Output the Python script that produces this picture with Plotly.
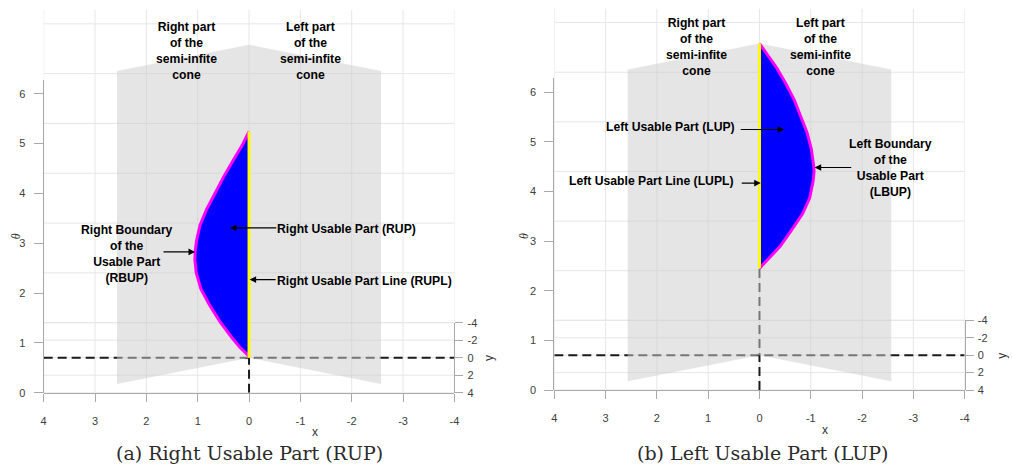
import numpy as np
import plotly.graph_objects as go

W, H = 1012, 475

# ---- tick values ----
x_ticks = [4, 3, 2, 1, 0, -1, -2, -3, -4]
x_tick_text = ["4", "3", "2", "1", "0", "-1", "-2", "-3", "-4"]
theta_ticks = [0, 1, 2, 3, 4, 5, 6]
depth_ticks = [-4, -2, 0, 2, 4]
depth_tick_text = ["-4", "-2", "0", "2", "4"]

# ---- right usable part boundary (plane y = 0): x as a function of theta ----
rup_theta = [0.00, 0.05, 0.21, 0.41, 0.73, 1.06, 1.385, 1.71, 1.97, 2.135, 2.36, 2.66,
             2.98, 3.31, 3.64, 3.96, 4.29, 4.54]
rup_x = [0.00, 0.02, 0.18, 0.34, 0.57, 0.77, 0.94, 1.03, 1.055, 1.05, 1.02, 0.955,
         0.825, 0.665, 0.49, 0.31, 0.12, 0.00]

# ---- left usable part boundary (plane y = 0) ----
lup_theta = [1.75, 1.87, 2.19, 2.52, 2.85, 3.17, 3.50, 3.70, 3.83, 4.16, 4.48, 4.81,
             5.14, 5.47, 5.79, 6.05, 6.28]
lup_x = [0.00, -0.11, -0.40, -0.625, -0.84, -0.98, -1.045, -1.065, -1.055, -1.01, -0.93, -0.805,
         -0.68, -0.515, -0.335, -0.16, 0.00]

# ---- semi-infinite cone patch ----
cone_half_width = 2.57
cone_rim_depth = 3.0
theta_max = 2 * np.pi
x_lim = 4.0
depth_lim = 4.0

# screen rise per unit of depth for the near-frontal view
DEPTH_SLOPE = 0.1757


def screen_v(theta, depth):
    """Vertical screen coordinate of a point (theta, depth) in the frontal view."""
    return np.asarray(theta, float) + (depth_lim - np.asarray(depth, float)) * DEPTH_SLOPE


V_TOP = float(screen_v(theta_max, -depth_lim))

GRID = "#e6e6e6"
AXIS = "#a9a9a9"
TICKFONT = dict(family="Liberation Sans, Arial", size=11, color="#404040")
BOLD = dict(family="Liberation Sans, Arial", size=12.2, color="black", weight="bold")

panels = [
    dict(x="x", y="y", yt="y3", yd="y5", xkey="xaxis", ykey="yaxis", ytkey="yaxis3", ydkey="yaxis5",
         left_px=41.0, right_px=455.0, v0_px=396.7, scale=51.1,
         theta=rup_theta, bx=rup_x,
         cone_labels=[(1.21, 6.86), (-1.20, 6.86)],
         arrows=[((0.375, 3.307), (-0.56, 3.307)),
                 ((1.051, 2.826), (1.695, 2.826)),
                 ((-0.01, 2.27), (-0.547, 2.27))],
         texts=[("Right Usable Part (RUP)", -0.51, 3.296, "left"),
                ("Right Boundary<br>of the<br>Usable Part<br>(RBUP)", 2.377, 2.779, "center"),
                ("Right Usable Part Line (RUPL)", -0.51, 2.25, "left")],
         caption="(a) Right Usable Part (RUP)", cap_px=(248, 459),
         xlab_px=(314, 437), tlab_px=(13.3, 236), ylab_px=(490, 361)),
    dict(x="x2", y="y2", yt="y4", yd="y6", xkey="xaxis2", ykey="yaxis2", ytkey="yaxis4", ydkey="yaxis6",
         left_px=555.7, right_px=969.3, v0_px=394.0, scale=50.9,
         theta=lup_theta, bx=lup_x,
         cone_labels=[(1.226, 6.91), (-1.19, 6.91)],
         arrows=[((-0.484, 5.251), (0.395, 5.251)),
                 ((-0.025, 4.171), (0.375, 4.171)),
                 ((-1.075, 4.485), (-1.818, 4.485))],
         texts=[("Left Usable Part (LUP)", 0.44, 5.30, "right"),
                ("Left Usable Part Line (LUPL)", 0.46, 4.21, "right"),
                ("Left Boundary<br>of the<br>Usable Part<br>(LBUP)", -2.55, 4.47, "center")],
         caption="(b) Left Usable Part (LUP)", cap_px=(766, 459),
         xlab_px=(829, 435), tlab_px=(525, 236), ylab_px=(1006.7, 359)),
]

fig = go.Figure()
annotations = []
layout_axes = {}

for p in panels:
    xr, yr = p["x"], p["y"]
    common = dict(xaxis=xr, yaxis=yr, showlegend=False, hoverinfo="skip")

    # grid: back-wall theta levels (y = -4), floor depth levels (theta = 0), and x columns
    gx, gv = [], []
    for t in theta_ticks:
        v = float(screen_v(t, -depth_lim))
        gx += [x_lim, -x_lim, None]
        gv += [v, v, None]
    for d in depth_ticks:
        v = float(screen_v(0, d))
        gx += [x_lim, -x_lim, None]
        gv += [v, v, None]
    for xv in x_ticks:
        gx += [xv, xv, None]
        gv += [0.0, V_TOP, None]
    fig.add_trace(go.Scatter(x=gx, y=gv, mode="lines", line=dict(color=GRID, width=1), **common))

    # dashed coordinate lines through the origin
    v_origin = float(screen_v(0, 0))
    fig.add_trace(go.Scatter(x=[x_lim, -x_lim], y=[v_origin, v_origin], mode="lines",
                             line=dict(color="#1a1a1a", width=2, dash="9px,5px"), **common))
    fig.add_trace(go.Scatter(x=[0, 0],
                             y=[float(screen_v(0, depth_lim)), float(screen_v(p["theta"][0], 0))],
                             mode="lines", line=dict(color="#1a1a1a", width=2, dash="9px,5px"), **common))

    # semi-transparent cone patch
    cx = [cone_half_width, 0, -cone_half_width, -cone_half_width, 0, cone_half_width]
    cd = [cone_rim_depth, 0, cone_rim_depth, cone_rim_depth, 0, cone_rim_depth]
    ct = [0, 0, 0, theta_max, theta_max, theta_max]
    fig.add_trace(go.Scatter(x=cx, y=screen_v(ct, cd), mode="lines", fill="toself",
                             fillcolor="rgba(205,205,205,0.52)", line=dict(width=0), **common))

    # usable part (blue), its boundary (magenta) and its line on x = 0 (yellow)
    bv = screen_v(p["theta"], 0)
    fig.add_trace(go.Scatter(x=p["bx"], y=bv, mode="lines", fill="toself", fillcolor="#0000ff",
                             line=dict(width=0), **common))
    fig.add_trace(go.Scatter(x=p["bx"], y=bv, mode="lines",
                             line=dict(color="#ff00ff", width=3), **common))
    fig.add_trace(go.Scatter(x=[0, 0], y=[bv[0], bv[-1]], mode="lines",
                             line=dict(color="#ffff00", width=3), **common))

    # empty traces so the auxiliary axes are laid out
    fig.add_trace(go.Scatter(x=[], y=[], xaxis=xr, yaxis=p["yt"], showlegend=False, hoverinfo="skip"))
    fig.add_trace(go.Scatter(x=[], y=[], xaxis=xr, yaxis=p["yd"], showlegend=False, hoverinfo="skip"))

    # axis geometry
    b = (H - p["v0_px"]) / H
    t = b + V_TOP * p["scale"] / H
    xd = [p["left_px"] / W, p["right_px"] / W]
    layout_axes[p["xkey"]] = dict(domain=xd, range=[x_lim, -x_lim], anchor=yr,
                                  tickvals=x_ticks, ticktext=x_tick_text, tickfont=TICKFONT,
                                  ticks="outside", ticklen=8, tickcolor=AXIS, ticklabelstandoff=10,
                                  showline=True, linecolor=AXIS, linewidth=1,
                                  showgrid=False, zeroline=False, fixedrange=True)
    layout_axes[p["ykey"]] = dict(domain=[b, t], range=[0, V_TOP], anchor=xr,
                                  showticklabels=False, ticks="", showline=False,
                                  showgrid=False, zeroline=False, fixedrange=True)
    layout_axes[p["ytkey"]] = dict(domain=[b, b + theta_max * p["scale"] / H], range=[0, theta_max],
                                   anchor=xr, side="left",
                                   tickvals=theta_ticks, tickfont=TICKFONT,
                                   ticks="outside", ticklen=9, tickcolor=AXIS, ticklabelstandoff=6,
                                   showline=True, linecolor=AXIS, linewidth=1,
                                   showgrid=False, zeroline=False, fixedrange=True)
    depth_span = float(screen_v(0, -depth_lim) - screen_v(0, depth_lim))
    layout_axes[p["ydkey"]] = dict(domain=[b, b + depth_span * p["scale"] / H],
                                   range=[depth_lim, -depth_lim], anchor=xr, side="right",
                                   tickvals=depth_ticks, ticktext=depth_tick_text, tickfont=TICKFONT,
                                   ticks="outside", ticklen=8, tickcolor=AXIS, ticklabelstandoff=2,
                                   showline=True, linecolor=AXIS, linewidth=1,
                                   showgrid=False, zeroline=False, fixedrange=True)

    # cone labels
    for (lx, lv), txt in zip(p["cone_labels"],
                             ["Right part<br>of the<br>semi-infite<br>cone",
                              "Left part<br>of the<br>semi-infite<br>cone"]):
        annotations.append(dict(x=lx, y=lv, xref=xr, yref=yr, text=txt, showarrow=False,
                                font=BOLD, align="center", xanchor="center", yanchor="middle"))

    # arrows
    for (tip, tail) in p["arrows"]:
        annotations.append(dict(x=tip[0], y=tip[1], xref=xr, yref=yr, ax=tail[0], ay=tail[1],
                                axref=xr, ayref=yr, text="", showarrow=True, arrowhead=2,
                                arrowsize=1.1, arrowwidth=1.2, arrowcolor="black", standoff=0,
                                startstandoff=0))

    # callout texts
    for txt, lx, lv, anchor in p["texts"]:
        annotations.append(dict(x=lx, y=lv, xref=xr, yref=yr, text=txt, showarrow=False,
                                font=BOLD, align="center", xanchor=anchor, yanchor="middle"))

    # axis titles
    annotations.append(dict(x=p["xlab_px"][0] / W, y=1 - p["xlab_px"][1] / H, xref="paper", yref="paper",
                            text="x", showarrow=False, xanchor="center", yanchor="middle",
                            font=dict(family="Liberation Sans, Arial", size=12, color="#333333")))
    annotations.append(dict(x=p["tlab_px"][0] / W, y=1 - p["tlab_px"][1] / H, xref="paper", yref="paper",
                            text="<i>θ</i>", showarrow=False, xanchor="center", yanchor="middle",
                            textangle=-90,
                            font=dict(family="Liberation Serif, serif", size=12, color="#333333")))
    annotations.append(dict(x=p["ylab_px"][0] / W, y=1 - p["ylab_px"][1] / H, xref="paper", yref="paper",
                            text="y", showarrow=False, xanchor="center", yanchor="middle",
                            textangle=-90,
                            font=dict(family="Liberation Sans, Arial", size=12, color="#333333")))

    # caption
    annotations.append(dict(x=p["cap_px"][0] / W, y=1 - p["cap_px"][1] / H, xref="paper", yref="paper",
                            text=p["caption"], showarrow=False, xanchor="center", yanchor="middle",
                            font=dict(family="DejaVu Serif, serif", size=19, color="#2a2a2a")))

fig.update_layout(
    width=W, height=H,
    margin=dict(l=0, r=0, t=0, b=0),
    paper_bgcolor="white",
    plot_bgcolor="rgba(0,0,0,0)",
    showlegend=False,
    annotations=annotations,
    **layout_axes,
)

fig.write_html("out.html")
